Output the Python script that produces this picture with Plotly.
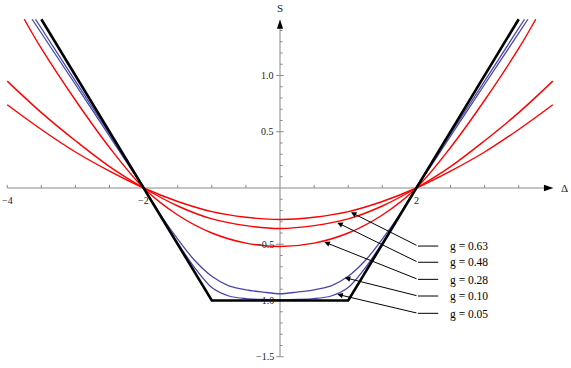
import plotly.graph_objects as go

# ---- curves (Delta, S) ----
delta_black = [-3.5, -1.0, 1.0, 3.5]
s_black = [1.5, -1.0, -1.0, 1.5]

delta_red = [-4, -3.5, -3, -2.5, -2, -1.5, -1, -0.5, 0, 0.5, 1, 1.5, 2, 2.5, 3, 3.5, 4]
s_g063 = [0.74, 0.52, 0.32, 0.15, 0.0, -0.12, -0.21, -0.26, -0.28, -0.26, -0.21, -0.12, 0.0, 0.15, 0.32, 0.52, 0.74]
s_g048 = [0.95, 0.67, 0.42, 0.19, 0.0, -0.16, -0.275, -0.335, -0.36, -0.335, -0.275, -0.16, 0.0, 0.19, 0.42, 0.67, 0.95]

delta_g028 = [-3.75, -3.5, -3, -2.5, -2, -1.5, -1, -0.5, 0, 0.5, 1, 1.5, 2, 2.5, 3, 3.5, 3.75]
s_g028 = [1.5, 1.24, 0.78, 0.36, 0.0, -0.24, -0.40, -0.49, -0.52, -0.49, -0.40, -0.24, 0.0, 0.36, 0.78, 1.24, 1.5]

delta_g010 = [-3.635, -3, -2.5, -2, -1.75, -1.5, -1.25, -1, -0.75, -0.5, -0.25, 0,
              0.25, 0.5, 0.75, 1, 1.25, 1.5, 1.75, 2, 2.5, 3, 3.635]
s_g010 = [1.5, 0.92, 0.46, 0.0, -0.24, -0.455, -0.645, -0.785, -0.87, -0.905, -0.925, -0.94,
          -0.925, -0.905, -0.87, -0.785, -0.645, -0.455, -0.24, 0.0, 0.46, 0.92, 1.5]

delta_g005 = [-3.585, -3, -2.5, -2, -1.75, -1.5, -1.25, -1, -0.75, -0.5, -0.25, 0,
              0.25, 0.5, 0.75, 1, 1.25, 1.5, 1.75, 2, 2.5, 3, 3.585]
s_g005 = [1.5, 0.95, 0.48, 0.0, -0.25, -0.49, -0.71, -0.885, -0.96, -0.983, -0.99, -0.992,
          -0.99, -0.983, -0.96, -0.885, -0.71, -0.49, -0.25, 0.0, 0.48, 0.95, 1.5]

# ---- labels ----
g_labels = ["g = 0.63", "g = 0.48", "g = 0.28", "g = 0.10", "g = 0.05"]
label_tip_delta = [1.04, 0.84, 0.65, 0.95, 0.84]
label_tip_s = [-0.216, -0.308, -0.48, -0.797, -0.945]
label_elbow_s = [-0.516, -0.66, -0.812, -0.96, -1.114]

x_ticks = [-4, -3.5, -3, -2.5, -2, -1.5, -1, -0.5, 0.5, 1, 1.5, 2, 2.5, 3, 3.5]
x_tick_labels = {-4: "\u22124", -2: "\u22122", 2: "2"}
y_ticks = [round(-1.5 + 0.1 * i, 1) for i in range(30) if round(-1.5 + 0.1 * i, 1) != 0]
y_tick_labels = {1.0: "1.0", 0.5: "0.5", -0.5: "\u22120.5", -1.0: "\u22121.0", -1.5: "\u22121.5"}

RED = "#ff0000"
BLUE = "#4848a8"
AXIS = "#8a8a8a"
FONT = "Liberation Serif"

fig = go.Figure()

# axes lines
fig.add_trace(go.Scatter(x=[-4, 3.9], y=[0, 0], mode="lines",
                         line=dict(color=AXIS, width=1), hoverinfo="skip"))
fig.add_trace(go.Scatter(x=[0, 0], y=[-1.5, 1.44], mode="lines",
                         line=dict(color=AXIS, width=1), hoverinfo="skip"))

# ticks
tx, ty = [], []
for t in x_ticks:
    tx += [t, t, None]
    ty += [0, 0.028, None]
for t in y_ticks:
    major = abs(t * 2 - round(t * 2)) < 1e-9
    tx += [-0.055 if major else 0, 0.055 if major else 0.038, None]
    ty += [t, t, None]
fig.add_trace(go.Scatter(x=tx, y=ty, mode="lines", line=dict(color=AXIS, width=1),
                         hoverinfo="skip"))

# curves
fig.add_trace(go.Scatter(x=delta_red, y=s_g063, mode="lines",
                         line=dict(color=RED, width=1.4, shape="spline", smoothing=1)))
fig.add_trace(go.Scatter(x=delta_red, y=s_g048, mode="lines",
                         line=dict(color=RED, width=1.4, shape="spline", smoothing=1)))
fig.add_trace(go.Scatter(x=delta_g028, y=s_g028, mode="lines",
                         line=dict(color=RED, width=1.4, shape="spline", smoothing=1)))
fig.add_trace(go.Scatter(x=delta_g010, y=s_g010, mode="lines",
                         line=dict(color=BLUE, width=1.3, shape="spline", smoothing=0.8)))
fig.add_trace(go.Scatter(x=delta_g005, y=s_g005, mode="lines",
                         line=dict(color=BLUE, width=1.3, shape="spline", smoothing=0.8)))
fig.add_trace(go.Scatter(x=delta_black, y=s_black, mode="lines",
                         line=dict(color="black", width=2.6)))

# label leader lines (horizontal part)
lx, ly = [], []
for s in label_elbow_s:
    lx += [2.023, 2.32, None]
    ly += [s, s, None]
fig.add_trace(go.Scatter(x=lx, y=ly, mode="lines", line=dict(color="black", width=1),
                         hoverinfo="skip"))

annotations = []
for txt, tdx, tds, es in zip(g_labels, label_tip_delta, label_tip_s, label_elbow_s):
    annotations.append(dict(x=tdx, y=tds, ax=2.023, ay=es, axref="x", ayref="y",
                            xref="x", yref="y", text="", showarrow=True,
                            arrowhead=2, arrowsize=1.1, arrowwidth=1, arrowcolor="black"))
    annotations.append(dict(x=2.463, y=es - 0.006, xref="x", yref="y", text=txt,
                            showarrow=False, xanchor="left", yanchor="middle",
                            font=dict(family=FONT, size=11.5, color="black")))

for t, lab in x_tick_labels.items():
    annotations.append(dict(x=t, y=-0.107, xref="x", yref="y", text=lab, showarrow=False,
                            xanchor="center", yanchor="middle",
                            font=dict(family=FONT, size=10, color="#222")))
for t, lab in y_tick_labels.items():
    annotations.append(dict(x=-0.06, y=t, xref="x", yref="y", text=lab, showarrow=False,
                            xanchor="right", yanchor="middle",
                            font=dict(family=FONT, size=10, color="#222")))

annotations.append(dict(x=0, y=1.6, xref="x", yref="y", text="S", showarrow=False,
                        font=dict(family=FONT, size=11, color="#222")))
annotations.append(dict(x=4.09, y=0.0, xref="x", yref="y", text="\u0394", showarrow=False,
                        xanchor="left", font=dict(family=FONT, size=11, color="#222")))

shapes = [
    dict(type="path", path="M 4.01,0 L 3.87,0.028 L 3.87,-0.028 Z", xref="x", yref="y",
         fillcolor="black", line=dict(width=0)),
    dict(type="path", path="M 0,1.5 L -0.045,1.415 L 0.045,1.415 Z", xref="x", yref="y",
         fillcolor="black", line=dict(width=0)),
]

fig.update_layout(
    width=571, height=368,
    margin=dict(l=0, r=0, t=0, b=0),
    plot_bgcolor="white", paper_bgcolor="white",
    showlegend=False,
    xaxis=dict(range=[-4.106, 4.267], visible=False, fixedrange=True),
    yaxis=dict(range=[-1.6, 1.671], visible=False, fixedrange=True),
    annotations=annotations,
    shapes=shapes,
)

# page body has a default 8px margin; drop it so the figure sits at the window corner
fig.write_html("out.html", config={"displayModeBar": False},
               post_script="document.body.style.margin='0';")
